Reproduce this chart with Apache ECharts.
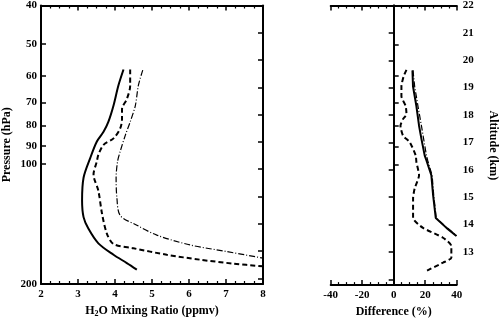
<!DOCTYPE html>
<html><head><meta charset="utf-8">
<script src="https://cdn.jsdelivr.net/npm/echarts@6/dist/echarts.min.js"></script>
<style>html,body{margin:0;padding:0;background:#fff}#c{width:501px;height:323px}</style>
</head><body><div id="c"></div>
<script>
// ---- Left panel: H2O mixing ratio (ppmv) vs pressure (hPa)
const solidMix = [4.23,4.09,3.96,3.82,3.69,3.51,3.33,3.15,3.11,3.15,3.28,3.55,3.96,4.32,4.59];
const solidP   = [57.9,63.6,71.3,78.4,83.0,87.8,96.6,108.2,123.5,135.9,145.2,158.1,168.9,177.2,184.0];
const dashMix  = [4.41,4.41,4.32,4.19,4.19,4.14,3.96,3.69,3.55,3.51,3.42,3.55,3.65,3.78,3.96,4.50,5.40,6.30,7.20,8.0];
const dashP    = [57.9,63.6,68.7,72.7,76.9,81.4,86.2,89.5,94.8,98.4,106.2,116.7,133.3,149.4,158.7,162.7,168.9,173.8,177.8,180.6];
const ddMix    = [4.75,4.63,4.55,4.41,4.28,4.14,4.07,4.03,4.05,4.14,4.59,5.13,6.03,7.02,8.0];
const ddP      = [58.1,63.6,71.3,78.4,84.6,93.0,98.4,108.2,121.2,134.6,142.4,150.8,159.6,165.8,172.2];
// ---- Right panel: Difference (%) vs altitude (km)
const solidDiff = [11.9,12.25,14.4,16.1,17.6,19.7,20.8,23.9,25.0,26.7,33.5,39.8];
const solidAlt  = [19.63,19.05,18.33,17.61,17.13,16.52,16.34,15.80,15.08,14.24,13.88,13.58];
const ddDiff    = [12.25,13.3,15.4,17.6,19.0,20.8,21.6,24.4,25.4,27.0,34.0,40.0];
const ddAlt     = [19.63,19.05,18.33,17.61,17.13,16.52,16.34,15.80,15.08,14.24,13.88,13.59];
const dashDiff  = [8.1,6.3,4.9,4.9,7.6,8.1,5.9,4.3,5.9,10.2,14.0,14.4,16.1,13.3,12.3,12.3,18.6,31.3,36.6,36.6,31.3,20.8];
const dashAlt   = [19.65,19.41,19.05,18.69,18.33,18.03,17.85,17.61,17.25,17.01,16.52,16.29,15.80,15.32,14.96,14.24,13.88,13.52,13.22,12.79,12.61,12.31];
// ---- Tick labels
const pressureTicks = [40,50,60,70,80,90,100,200];
const altitudeTicks = [12,13,14,15,16,17,18,19,20,21,22];
const altitudeLabels = [13,14,15,16,17,18,19,20,21,22];

const zip = (a,b) => a.map((v,i)=>[v,b[i]]);
const FONT = 'Liberation Serif';
const lbl = {fontFamily: FONT, fontWeight:'bold', fontSize:11, color:'#000'};
const axLine = {show:true, lineStyle:{color:'#000', width:2}};
function xAx(grid, pos, min, max, interval, showLabel, name){
  return {type:'value', gridIndex:grid, position:pos, min, max, interval,
    axisLine:axLine, splitLine:{show:false},
    axisTick:{show:true, inside:true, length:5, lineStyle:{color:'#000', width:1.5}},
    minorTick:{show:true, splitNumber:4, length:3, lineStyle:{color:'#000', width:1.2}},
    axisLabel:Object.assign({show:showLabel, margin:5}, lbl),
    name: name||'', nameLocation:'middle', nameGap:20,
    nameTextStyle:{fontFamily:FONT, fontWeight:'bold', fontSize:12, color:'#000',
      rich:{a:{fontFamily:FONT, fontWeight:'bold', fontSize:12, color:'#000'},
            s:{fontFamily:FONT, fontWeight:'bold', fontSize:8, color:'#000', verticalAlign:'bottom', padding:[6,0,0,0]}}}
  };
}
function pAx(grid, pos, showLabel, name){
  return {type:'log', gridIndex:grid, position:pos, min:40, max:200, inverse:true, logBase:10,
    axisLine:axLine, splitLine:{show:false},
    axisTick:{show:true, inside:true, length:5, customValues:pressureTicks, lineStyle:{color:'#000', width:1.5}},
    axisLabel:Object.assign({show:showLabel, margin:4, customValues:pressureTicks}, lbl),
    name:name||'', nameLocation:'middle', nameGap:28, nameRotate:90,
    nameTextStyle:{fontFamily:FONT, fontWeight:'bold', fontSize:12, color:'#000'}};
}
function aAx(grid, pos, showLabel, name){
  return {type:'value', gridIndex:grid, position:pos, min:11.79, max:22,
    axisLine:axLine, splitLine:{show:false},
    axisTick:{show:true, inside:true, length:5, customValues:altitudeTicks, lineStyle:{color:'#000', width:1.5}},
    axisLabel:Object.assign({show:showLabel, margin:6, customValues:altitudeLabels}, lbl),
    name:name||'', nameLocation:'middle', nameGap:30, nameRotate:-90,
    nameTextStyle:{fontFamily:FONT, fontWeight:'bold', fontSize:12, color:'#000'}};
}
const solidStyle = {color:'#000', width:2, type:'solid'};
const dashStyle  = {color:'#000', width:2, type:[5,3]};
const ddStyle    = {color:'#000', width:1.2, type:[6,2,1,2]};
function ln(data, xi, yi, style, extra){
  return Object.assign({type:'line', xAxisIndex:xi, yAxisIndex:yi, data, showSymbol:false, symbol:'none',
    smooth:false, lineStyle:style, animation:false, clip:true, silent:true}, extra||{});
}
const option = {
  animation:false,
  grid:[{left:40.7, top:5, width:222.3, height:283}, {left:330.7, top:5, width:126, height:283}],
  xAxis:[
    xAx(0,'bottom',2,8,1,true,'{a|H}{s|2}{a|O Mixing Ratio (ppmv)}'),
    xAx(0,'top',2,8,1,false),
    xAx(1,'bottom',-40,40,20,true,'Difference (%)'),
    xAx(1,'top',-40,40,20,false)
  ],
  yAxis:[
    pAx(0,'left',true,'Pressure (hPa)'),
    aAx(0,'right',false),
    pAx(1,'left',false),
    aAx(1,'right',true,'Altitude (km)')
  ],
  series:[
    ln(zip(solidMix,solidP),0,0,solidStyle,{smooth:0.3}),
    ln(zip(dashMix,dashP),0,0,dashStyle,{smooth:0.3}),
    ln(zip(ddMix,ddP),0,0,ddStyle,{smooth:0.3}),
    ln(zip(solidDiff,solidAlt),2,3,solidStyle,{markLine:{silent:true, symbol:'none', label:{show:false},
      lineStyle:{color:'#000', width:1, type:'solid'}, data:[{xAxis:0}]}}),
    ln(zip(ddDiff,ddAlt),2,3,ddStyle),
    ln(zip(dashDiff,dashAlt),2,3,dashStyle,{smooth:0.2})
  ]
};
const chart = echarts.init(document.getElementById('c'), null, {renderer:'canvas'});
chart.setOption(option);
</script></body></html>
